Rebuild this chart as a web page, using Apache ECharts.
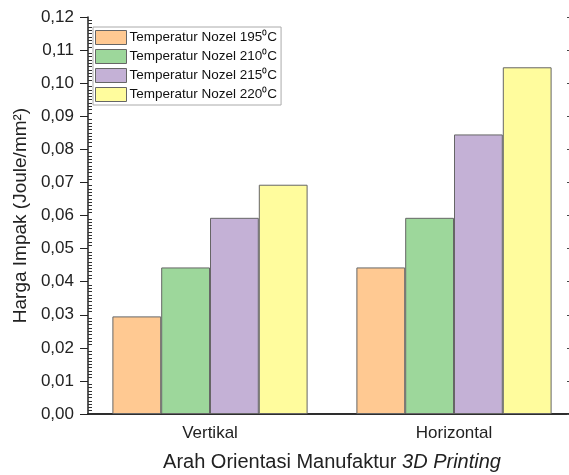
<!DOCTYPE html>
<html>
<head>
<meta charset="utf-8">
<script src="https://cdn.jsdelivr.net/npm/echarts@6/dist/echarts.min.js"></script>
<style>
html, body { margin: 0; padding: 0; background: #fff; }
#main { width: 569px; height: 475px; }
</style>
</head>
<body>
<div id="main"></div>
<script>
var categories = ['Vertikal', 'Horizontal'];
var seriesNames = ['Temperatur Nozel 195\u2070C', 'Temperatur Nozel 210\u2070C', 'Temperatur Nozel 215\u2070C', 'Temperatur Nozel 220\u2070C'];
var nozel195 = [0.0295, 0.0443];
var nozel210 = [0.0443, 0.0593];
var nozel215 = [0.0593, 0.0845];
var nozel220 = [0.0693, 0.1048];
var colors = ['#ffc992', '#9dd79b', '#c4b1d6', '#fffc9d'];

var chart = echarts.init(document.getElementById('main'));
var font = 'Liberation Sans, Arial, sans-serif';

function bar(name, data, color) {
    return {
        name: name,
        type: 'bar',
        data: data,
        barGap: '0%',
        barCategoryGap: '20%',
        itemStyle: {
            color: color,
            borderColor: '#666',
            borderWidth: 1
        }
    };
}

var option = {
    animation: false,
    textStyle: { fontFamily: font },
    grid: { left: 88, width: 488, top: 17, height: 397, outerBoundsMode: 'none', containLabel: false },
    legend: {
        orient: 'vertical',
        left: 93,
        top: 27,
        padding: [3, 4, 3, 2],
        itemGap: 4,
        itemWidth: 31,
        itemHeight: 14,
        borderColor: '#aaa',
        borderWidth: 1,
        backgroundColor: '#fff',
        textStyle: { fontSize: 13.5, color: '#111', padding: [0, 0, 0, -2] },
        data: seriesNames.map(function (n, i) {
            return { name: n, icon: 'rect', itemStyle: { color: colors[i], borderColor: '#666', borderWidth: 1 } };
        })
    },
    xAxis: [{
        type: 'category',
        data: categories,
        name: '{a|Arah Orientasi Manufaktur }{b|3D Printing}',
        nameLocation: 'middle',
        nameGap: 38,
        nameTextStyle: {
            rich: {
                a: { fontSize: 20, color: '#222', fontFamily: font },
                b: { fontSize: 20, color: '#222', fontStyle: 'italic', fontFamily: font }
            }
        },
        axisLine: { lineStyle: { color: '#222', width: 1.5 } },
        axisTick: { alignWithLabel: true, inside: true, length: 6, lineStyle: { color: '#222' } },
        axisLabel: { fontSize: 17, color: '#222', margin: 11 }
    }, {
        type: 'category',
        data: categories,
        position: 'top',
        axisLine: { lineStyle: { color: '#222', width: 1.5 } },
        axisTick: { alignWithLabel: true, inside: true, length: 6, lineStyle: { color: '#222' } },
        axisLabel: { show: false }
    }],
    yAxis: [{
        type: 'value',
        min: 0,
        max: 0.12,
        interval: 0.01,
        name: 'Harga Impak (Joule/mm\u00b2)',
        nameLocation: 'middle',
        nameGap: 54,
        nameTextStyle: { fontSize: 19, color: '#222' },
        axisLine: { show: true, lineStyle: { color: '#222', width: 1.5 } },
        axisTick: { show: true, length: 8, lineStyle: { color: '#222' } },
        splitLine: { show: false },
        axisLabel: {
            fontSize: 17,
            color: '#222',
            margin: 14,
            formatter: function (v) { return v.toFixed(2).replace('.', ','); }
        }
    }, {
        type: 'value',
        min: 0,
        max: 0.12,
        interval: 0.01,
        position: 'right',
        axisLine: { show: true, lineStyle: { color: '#222', width: 1.5 } },
        axisTick: { show: true, inside: true, length: 9, lineStyle: { color: '#444' } },
        splitLine: { show: false },
        axisLabel: { show: false }
    }, {
        type: 'value',
        min: 0,
        max: 0.12,
        interval: 0.01,
        position: 'left',
        axisLine: { show: false },
        axisTick: { show: false, inside: true },
        minorTick: { show: true, splitNumber: 10, length: 4, lineStyle: { color: '#333' } },
        splitLine: { show: false },
        axisLabel: { show: false }
    }],
    series: [
        bar(seriesNames[0], nozel195, colors[0]),
        bar(seriesNames[1], nozel210, colors[1]),
        bar(seriesNames[2], nozel215, colors[2]),
        bar(seriesNames[3], nozel220, colors[3])
    ]
};

chart.setOption(option);
</script>
</body>
</html>
